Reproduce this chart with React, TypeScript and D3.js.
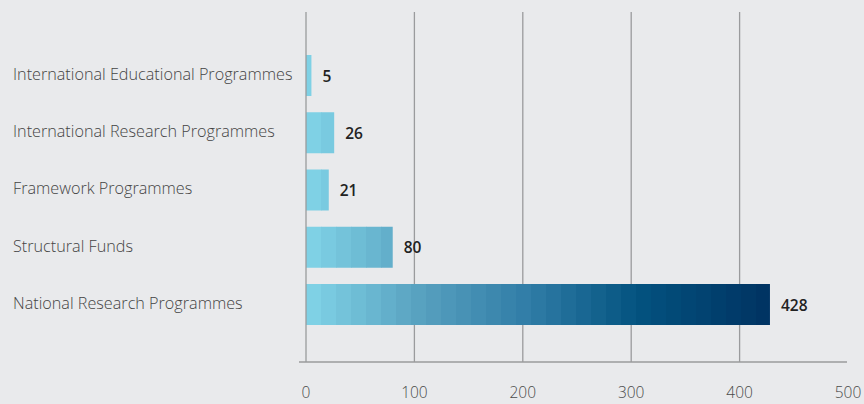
import React from "react";
import * as d3 from "d3";

const categories = [
  "International Educational Programmes",
  "International Research Programmes",
  "Framework Programmes",
  "Structural Funds",
  "National Research Programmes",
];
const values = [5, 26, 21, 80, 428];
const ticks = [0, 100, 200, 300, 400, 500];
const gridTicks = [100, 200, 300, 400];
const colorStopValues = [0, 100, 200, 300, 428];
const colorStops = ["#7fd1e5", "#57a0bf", "#2f7ca6", "#03527f", "#003160"];

const W = 864;
const H = 404;
const SEG = 15;
const FONT = "'Open Sans', 'Noto Sans', sans-serif";

export default function App() {
  const x = d3.scaleLinear().domain([0, 500]).range([306, 848]);
  const y = d3.scaleBand<string>().domain(categories).range([55, 325]).paddingInner(0.284).paddingOuter(0);
  const color = d3
    .scaleLinear<string>()
    .domain(colorStopValues)
    .range(colorStops)
    .interpolate(d3.interpolateRgb);
  const top = 12;
  const bottom = 362;

  return (
    <div style={{ position: "absolute", left: 0, top: 0, width: W, height: H }}>
      <svg width={W} height={H} style={{ display: "block", background: "#e9eaec" }}>
        <rect x={0} y={0} width={W} height={H} fill="#e9eaec" />
        {gridTicks.map((t) => (
          <line key={t} x1={x(t)} x2={x(t)} y1={top} y2={bottom} stroke="#9a9b9d" strokeWidth={1.3} />
        ))}
        {categories.map((c, i) => {
          const v = values[i];
          const x0 = x(0);
          const x1 = x(v);
          const w = x1 - x0;
          const n = Math.ceil(w / SEG);
          const segs = d3.range(n).map((k) => {
            const sx = x0 + k * SEG;
            const ex = Math.min(x1, sx + SEG);
            return { sx, ex, col: color(x.invert(sx)) };
          });
          const yy = y(c)!;
          const bw = y.bandwidth();
          return (
            <g key={c}>
              {segs.map((s, k) => (
                <rect key={k} x={s.sx} y={yy} width={s.ex - s.sx + (k < n - 1 ? 0.5 : 0)} height={bw} fill={s.col} />
              ))}
              <text
                x={x1 + 11}
                y={yy + bw / 2 + 2}
                dominantBaseline="middle"
                fontFamily={FONT}
                fontWeight={600}
                fontSize={15.5}
                fill="#222"
              >
                {v}
              </text>
              <text
                x={13}
                y={yy + bw / 2}
                dominantBaseline="middle"
                fontFamily={FONT}
                fontWeight={300}
                fontSize={16.2}
                fill="#444"
              >
                {c}
              </text>
            </g>
          );
        })}
        <line x1={x(0)} x2={x(0)} y1={top} y2={bottom} stroke="#9a9b9d" strokeWidth={1.3} />
        <line x1={299} x2={x(500) - 1} y1={bottom} y2={bottom} stroke="#9a9b9d" strokeWidth={1.3} />
        {ticks.map((t) => (
          <text
            key={t}
            x={x(t)}
            y={394}
            textAnchor="middle"
            dominantBaseline="middle"
            fontFamily={FONT}
            fontWeight={300}
            fontSize={15.5}
            fill="#4a4a4a"
          >
            {t}
          </text>
        ))}
      </svg>
    </div>
  );
}
